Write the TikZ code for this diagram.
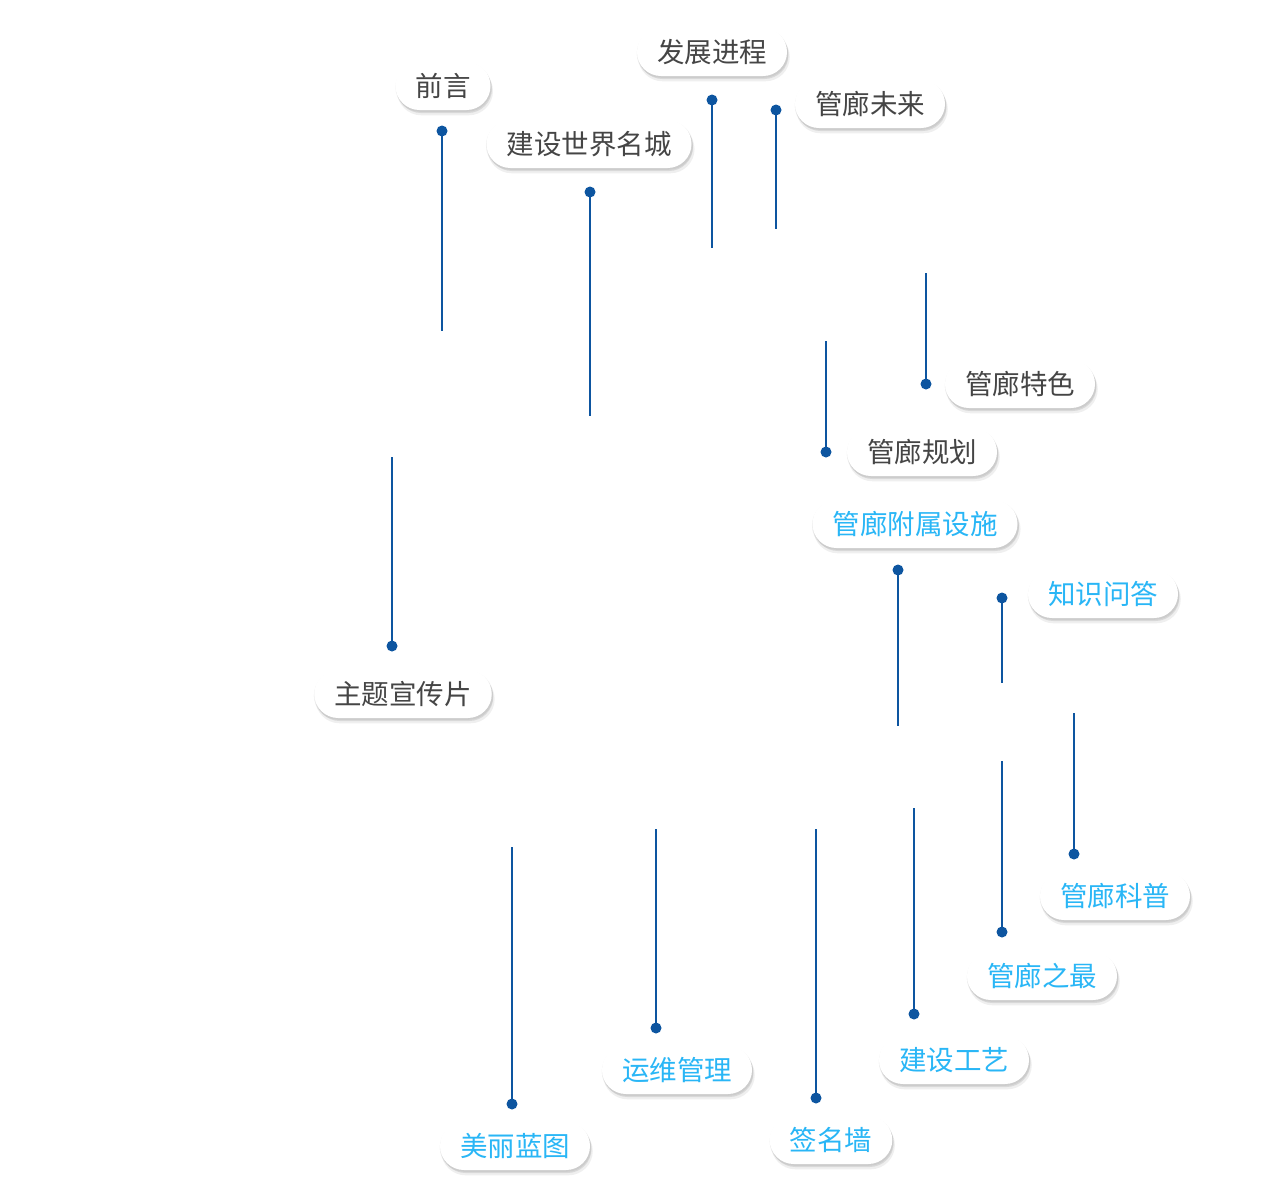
\documentclass[tikz,border=0pt]{standalone}
\usepackage{fontspec}
\usetikzlibrary{shadows}
\newfontfamily\cjk{Noto Sans CJK SC}
\definecolor{stemblue}{HTML}{0D55A0}
\definecolor{darktext}{HTML}{454545}
\definecolor{lighttext}{HTML}{29B6F6}

\begin{document}
\begin{tikzpicture}[x=1pt,y=-1pt,
  tag/.style={fill=white,rounded corners=24pt,minimum height=48pt,inner xsep=20pt,inner ysep=0pt,
    font=\cjk\fontsize{27.5}{28}\selectfont,text=darktext,
    drop shadow={opacity=.14,shadow xshift=0.5pt,shadow yshift=-1.5pt,shadow scale=1.01},
    drop shadow={opacity=.20,shadow xshift=1.5pt,shadow yshift=-3pt},
    drop shadow={opacity=.12,shadow xshift=2pt,shadow yshift=-5pt,shadow scale=1.01}},
  bluetag/.style={tag,text=lighttext},
  dot/.style={circle,fill=stemblue,inner sep=0pt,minimum size=11pt},
  stem/.style={draw=stemblue,line width=2pt}]
\useasboundingbox[fill=white] (0,0) rectangle (1280,1200);

% labels, upper group
\node[tag] (intro) at (443,86) {前言};
\node[tag] (history) at (712,52) {发展进程};
\node[tag] (future) at (870,104) {管廊未来};
\node[tag] (city) at (589,144) {建设世界名城};
\node[tag] (feature) at (1020,384) {管廊特色};
\node[tag] (plan) at (922,452) {管廊规划};
\node[tag] (film) at (403,694) {主题宣传片};

% labels, lower group
\node[bluetag] (facility) at (915,524) {管廊附属设施};
\node[bluetag] (quiz) at (1103,594) {知识问答};
\node[bluetag] (science) at (1115,896) {管廊科普};
\node[bluetag] (best) at (1042,976) {管廊之最};
\node[bluetag] (craft) at (954,1060) {建设工艺};
\node[bluetag] (operate) at (677,1070) {运维管理};
\node[bluetag] (wall) at (831,1140) {签名墙};
\node[bluetag] (blueprint) at (515,1146) {美丽蓝图};

% stems
\coordinate (intro-end) at (442,331);
\coordinate (history-end) at (712,248);
\coordinate (future-end) at (776,229);
\coordinate (city-end) at (590,416);
\coordinate (feature-end) at (926,273);
\coordinate (plan-end) at (826,341);
\coordinate (film-end) at (392,457);
\coordinate (facility-end) at (898,726);
\coordinate (quiz-end) at (1002,683);
\coordinate (science-end) at (1074,713);
\coordinate (best-end) at (1002,761);
\coordinate (craft-end) at (914,808);
\coordinate (operate-end) at (656,829);
\coordinate (wall-end) at (816,829);
\coordinate (blueprint-end) at (512,847);

\node[dot] (intro-dot) at (442,131) {};
\node[dot] (history-dot) at (712,100) {};
\node[dot] (future-dot) at (776,110) {};
\node[dot] (city-dot) at (590,192) {};
\node[dot] (feature-dot) at (926,384) {};
\node[dot] (plan-dot) at (826,452) {};
\node[dot] (film-dot) at (392,646) {};
\node[dot] (facility-dot) at (898,570) {};
\node[dot] (quiz-dot) at (1002,598) {};
\node[dot] (science-dot) at (1074,854) {};
\node[dot] (best-dot) at (1002,932) {};
\node[dot] (craft-dot) at (914,1014) {};
\node[dot] (operate-dot) at (656,1028) {};
\node[dot] (wall-dot) at (816,1098) {};
\node[dot] (blueprint-dot) at (512,1104) {};

\foreach \n in {intro,history,future,city,feature,plan,film,facility,quiz,science,best,craft,operate,wall,blueprint}
  \draw[stem] (\n-dot.center) -- (\n-end);
\end{tikzpicture}
\end{document}
